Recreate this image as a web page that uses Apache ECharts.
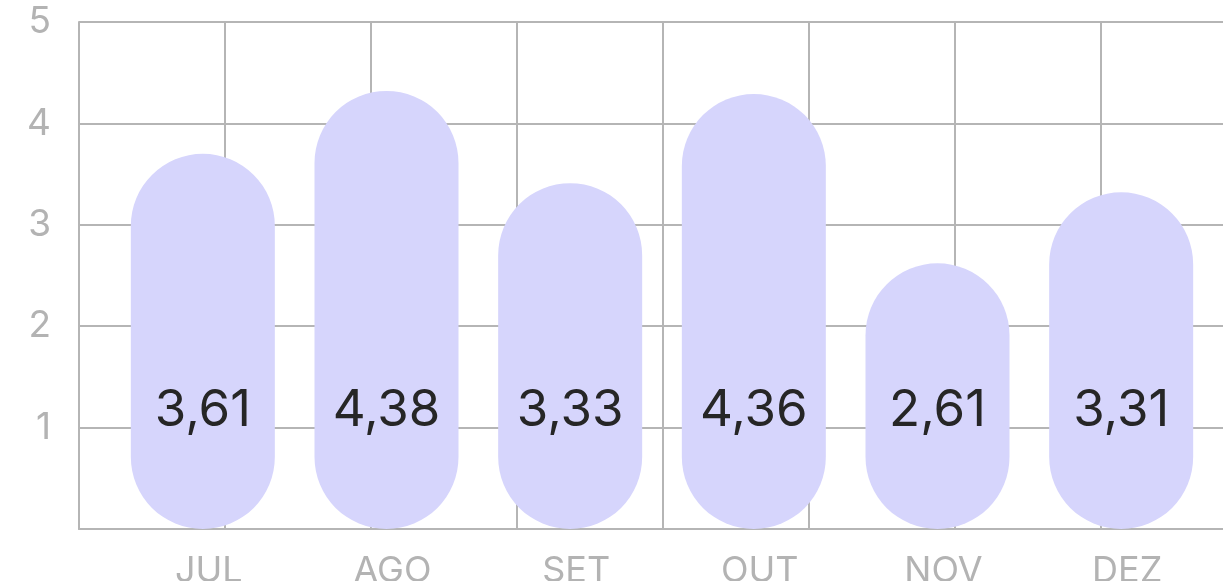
<!DOCTYPE html>
<html>
<head>
<meta charset="utf-8">
<title>Média mensal</title>
<script src="https://cdn.jsdelivr.net/npm/echarts@6/dist/echarts.min.js"></script>
<style>
  html, body { margin: 0; padding: 0; background: #fff; }
  #chart { width: 1223px; height: 581px; }
</style>
</head>
<body>
<div id="chart"></div>
<script>
// meses
var months = ["JUL", "AGO", "SET", "OUT", "NOV", "DEZ"];
// altura das barras
var barValues = [3.70, 4.32, 3.41, 4.29, 2.62, 3.32];
// texto dentro das barras
var barLabels = ["3,61", "4,38", "3,33", "4,36", "2,61", "3,31"];
// escala do eixo y
var yTicks = [0, 1, 2, 3, 4, 5];

var gridColor = "#b5b5b5";
var labelGray = "#b3b3b3";
var fontFamily = "Inter, 'Noto Sans', sans-serif";

var myChart = echarts.init(document.getElementById("chart"));

var option = {
  animation: false,
  backgroundColor: "#fff",
  grid: [
    // grade de fundo (linhas verticais independentes dos meses), cortada à direita
    { left: 79, top: 22, bottom: 52, right: 0, outerBoundsMode: "none" },
    // área das barras
    { left: 111, top: 22, bottom: 52, width: 1102, outerBoundsMode: "none" }
  ],
  xAxis: [
    {
      type: "value",
      gridIndex: 0,
      min: 0,
      max: 7.836,
      interval: 1,
      axisLine: { show: true, onZero: false, lineStyle: { color: gridColor, width: 2 } },
      axisTick: { show: false },
      axisLabel: { show: false },
      splitLine: {
        show: true,
        showMaxLine: false,
        lineStyle: { color: gridColor, width: 2 }
      }
    },
    {
      type: "category",
      gridIndex: 1,
      data: months,
      axisLine: { show: false },
      axisTick: { show: false },
      axisLabel: {
        color: labelGray,
        fontSize: 36,
        fontFamily: fontFamily,
        margin: 24,
        padding: [0, 0, 0, 12]
      }
    }
  ],
  yAxis: [
    {
      type: "value",
      gridIndex: 0,
      min: yTicks[0],
      max: yTicks[yTicks.length - 1],
      interval: 1,
      axisLine: { show: true, lineStyle: { color: gridColor, width: 2 } },
      axisTick: { show: false },
      axisLabel: {
        color: labelGray,
        fontSize: 37,
        fontFamily: fontFamily,
        margin: 28,
        padding: [6, 0, 0, 0],
        formatter: function (v) {
          return v === 0 ? "" : String(v);
        }
      },
      splitLine: { show: true, lineStyle: { color: gridColor, width: 2 } }
    },
    {
      type: "value",
      gridIndex: 1,
      min: yTicks[0],
      max: yTicks[yTicks.length - 1],
      show: false
    }
  ],
  series: [
    {
      type: "bar",
      xAxisIndex: 1,
      yAxisIndex: 1,
      data: barValues,
      barWidth: 144,
      itemStyle: {
        color: "#d6d5fc",
        borderRadius: 72
      },
      label: {
        show: true,
        position: "insideBottom",
        distance: 93,
        color: "#262626",
        fontSize: 51,
        fontFamily: fontFamily,
        formatter: function (p) {
          return barLabels[p.dataIndex];
        }
      }
    }
  ]
};

option && myChart.setOption(option);
window.addEventListener("resize", function () {
  myChart.resize();
});
</script>
</body>
</html>
